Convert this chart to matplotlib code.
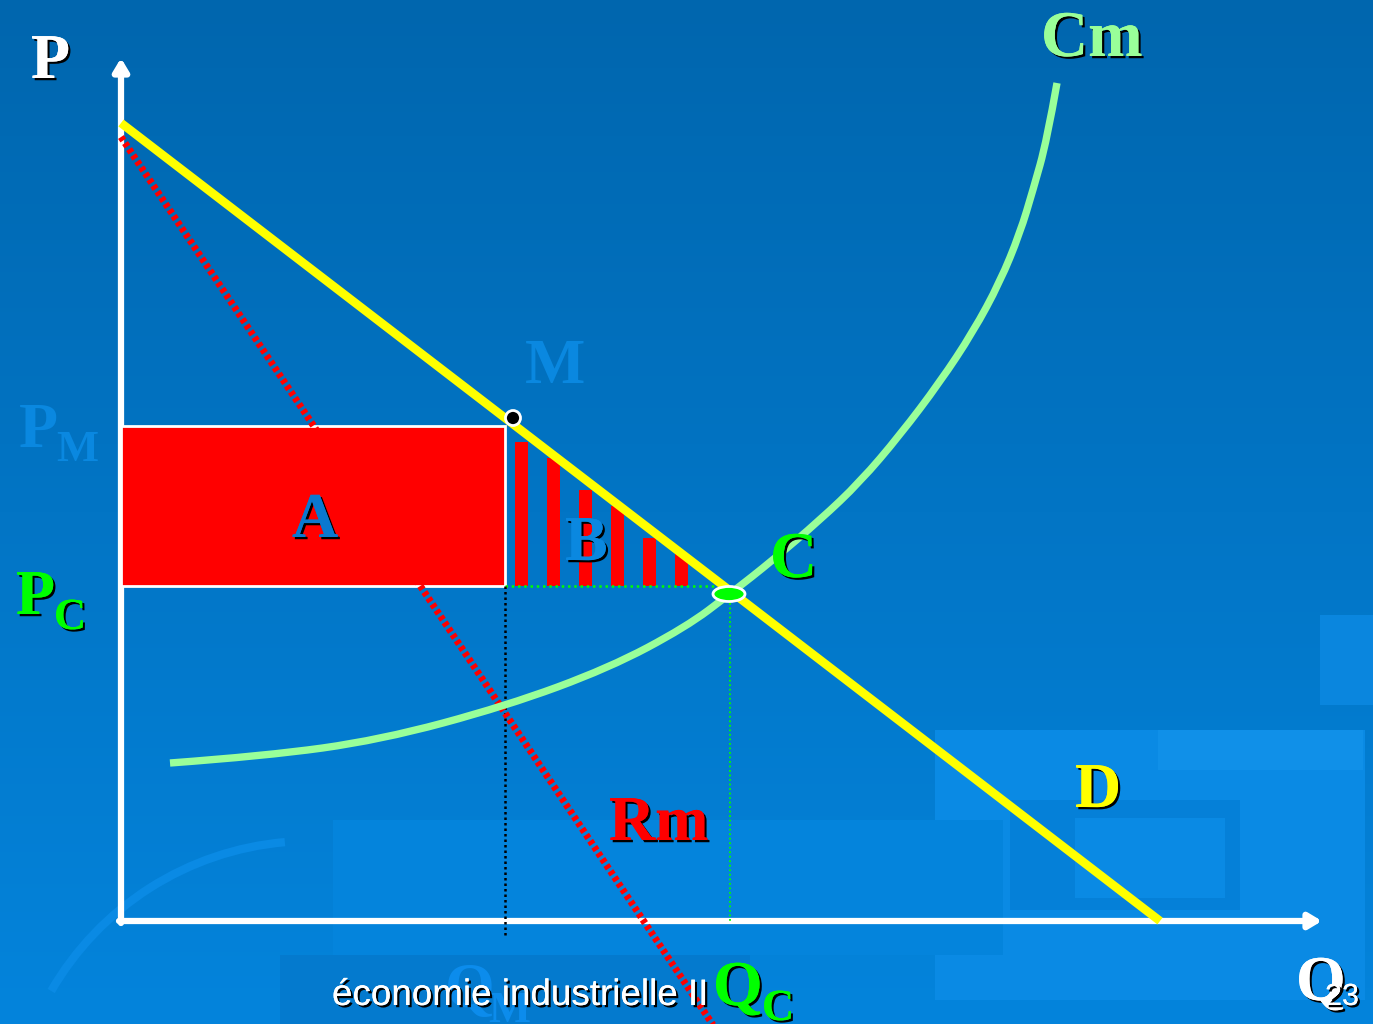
import numpy as np
import matplotlib
matplotlib.use("Agg")
import matplotlib.pyplot as plt
from matplotlib.patches import Rectangle, Ellipse, Circle, Arc, PathPatch
from matplotlib.path import Path
import matplotlib.patheffects as pe

# ---------------- data (economic units) ----------------
demand_q = [0.0, 10.39]
demand_p = [7.98, 0.0]

rm_q = [0.0, 6.0]
rm_p = [7.84, -1.16]

cm_q = [0.49, 1.44, 2.59, 3.85, 4.88, 5.65, 6.09, 6.52, 6.99, 7.39, 7.79,
        8.19, 8.52, 8.79, 8.99, 9.12, 9.26, 9.36]
cm_p = [1.58, 1.65, 1.81, 2.15, 2.53, 2.94, 3.27, 3.61, 4.01, 4.39, 4.86,
        5.39, 5.89, 6.39, 6.88, 7.31, 7.81, 8.38]

q_m, p_m = 3.84, 4.95          # monopoly quantity / price
q_c, p_c = 6.09, 3.35          # competitive quantity / price
m_point = (3.92, 5.03)
c_point = (6.08, 3.27)

bar_q = [4.005, 4.325, 4.645, 4.965, 5.285, 5.605]
bar_top = [4.79, 4.63, 4.31, 4.15, 3.83, 3.67]

axis_q_max = 12.01
axis_p_max = 8.63
qm_line_bottom = -0.16

# ---------------- figure ----------------
W, H = 1373, 1024
fig = plt.figure(figsize=(W / 100, H / 100), dpi=100)
ax = fig.add_axes([0, 0, 1, 1])
ax.set_xlim(-1.21, 12.52)
ax.set_ylim(-1.03, 9.21)
ax.axis("off")

# background gradient
top = np.array([0, 102, 174]) / 255
bot = np.array([4, 132, 220]) / 255
t = np.linspace(0, 1, 256)[:, None]
grad = top[None, :] * (1 - t) + bot[None, :] * t
grad = np.repeat(grad[:, None, :], 2, axis=1)
ax.imshow(grad, extent=(-1.21, 12.52, -1.03, 9.21), aspect="auto", zorder=0,
          origin="upper")


def fp(x, y):
    return (x / W, 1 - y / H)


# decorative rectangles (background)
deco = [
    (935, 730, 430, 270, "#0A8AE4"),
    (1158, 730, 205, 40, "#1090E8"),
    (333, 820, 670, 135, "#0484DC"),
    (280, 955, 470, 69, "#047ACE"),
    (1010, 800, 230, 110, "#0580D8"),
    (1075, 818, 150, 80, "#0A8AE4"),
    (1320, 615, 53, 90, "#0A86DE"),
]
for x, y, w, h, c in deco:
    ax.add_patch(Rectangle(fp(x, y + h), w / W, h / H, transform=fig.transFigure,
                           facecolor=c, edgecolor="none", zorder=0.5))
ax.add_patch(Arc((1.9, -2.2), 6.0, 6.0, theta1=95, theta2=150, color="#0A8AE4",
                 lw=6, zorder=1))

# axes (white arrows)
arrow_style = "-|>,head_length=0.75,head_width=0.45"
ax.annotate("", xy=(0, axis_p_max), xytext=(0, -0.02),
            arrowprops=dict(arrowstyle=arrow_style, color="white", lw=4.5,
                            shrinkA=0, shrinkB=0), zorder=3)
ax.annotate("", xy=(axis_q_max, 0), xytext=(-0.02, 0),
            arrowprops=dict(arrowstyle=arrow_style, color="white", lw=4.5,
                            shrinkA=0, shrinkB=0), zorder=3)

# rectangle A
ax.add_patch(Rectangle((0.0, p_c), q_m, p_m - p_c, facecolor="#FF0000",
                       edgecolor="white", lw=2, zorder=4))

# bars B
ax.bar(bar_q, np.array(bar_top) - p_c, bottom=p_c, width=0.13, color="#FF0000",
       zorder=4)

# dotted guides
ax.plot([q_m, q_c], [p_c, p_c], color="#00FF00", lw=1.8, ls=(0, (1, 1.5)), zorder=5)
ax.plot([q_c, q_c], [c_point[1], 0], color="#00FF00", lw=1.3, ls=(0, (1, 1.5)), zorder=5)
ax.plot([q_m, q_m], [p_c, qm_line_bottom], color="black", lw=1.8, ls=(0, (1, 1.2)),
        zorder=5)

# Rm (hatched red)
ax.plot(rm_q, rm_p, color="#FF0000", lw=5, ls=(0, (0.6, 0.45)), zorder=5,
        solid_capstyle="butt", dash_capstyle="butt")

# Cm curve: smooth quadratic B-spline through the read points
pts = np.column_stack([cm_q, cm_p])
verts = [tuple(pts[0])]
codes = [Path.MOVETO]
for i in range(1, len(pts) - 1):
    mid = (pts[i] + pts[i + 1]) / 2 if i < len(pts) - 2 else pts[i + 1]
    verts += [tuple(pts[i]), tuple(mid)]
    codes += [Path.CURVE3, Path.CURVE3]
ax.add_patch(PathPatch(Path(verts, codes), facecolor="none", edgecolor="#99FF99",
                       lw=5.3, zorder=6, capstyle="butt"))

# demand
ax.plot(demand_q, demand_p, color="#FFFF00", lw=6.2, zorder=7, solid_capstyle="butt")

# points
ax.add_patch(Circle(m_point, 0.075, facecolor="black", edgecolor="white", lw=2,
                    zorder=8))
ax.add_patch(Ellipse(c_point, 0.32, 0.15, facecolor="#00FF00", edgecolor="white",
                     lw=2, zorder=8))

# ---------------- text ----------------
serif = "Liberation Serif"
shadow = [pe.withSimplePatchShadow(offset=(1.6, -1.6), shadow_rgbFace="black",
                                   alpha=1.0), pe.Normal()]


def label(x, y, s, color, size, sh=True, ha="left", family=serif, weight="bold",
          z=10):
    fig.text(*fp(x, y), s, color=color, fontsize=size, family=family,
             weight=weight, ha=ha, va="baseline",
             path_effects=shadow if sh else None, zorder=z)


label(31, 78, "P", "white", 46)
label(1041, 56, "Cm", "#99FF99", 47)
label(525, 383, "M", "#0A88E0", 46, sh=False)
label(19, 447, "P", "#0A88E0", 46, sh=False)
label(56, 461, "M", "#0A88E0", 32, sh=False)
label(292, 537, "A", "#0A78D0", 46)
label(565, 560, "B", "#0A88E0", 46)
label(770, 577, "C", "#00FF00", 47)
label(16, 614, "P", "#00FF00", 46)
label(54, 629, "C", "#00FF00", 32)
label(1075, 807, "D", "#FFFF00", 46)
label(609, 840, "Rm", "#FF0000", 46)
label(445, 1007, "Q", "#0C8CEC", 46, sh=False, z=9)
label(488, 1022, "M", "#0C8CEC", 32, sh=False, z=9)
label(332, 1005, "économie industrielle II", "white", 26.5, family="Liberation Sans",
      weight="normal", z=11)
label(713, 1005, "Q", "#00FF00", 46, z=12)
label(762, 1020, "C", "#00FF00", 32, z=12)
label(1296, 1000, "Q", "white", 46, z=12)
label(1325, 1005, "23", "white", 22, family="Liberation Sans", weight="normal", z=13)

fig.savefig("out.png", dpi=100)
